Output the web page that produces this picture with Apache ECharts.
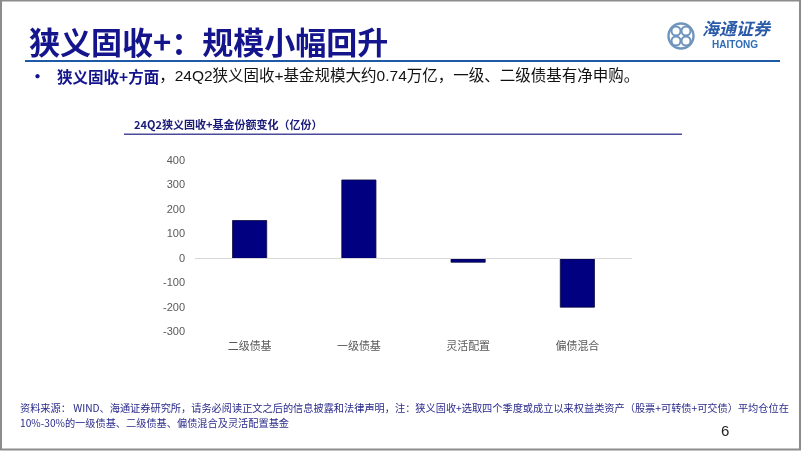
<!DOCTYPE html>
<html><head><meta charset="utf-8">
<script src="https://cdn.jsdelivr.net/npm/echarts@6/dist/echarts.min.js"></script>
<style>html,body{margin:0;padding:0;background:#fff}#c{width:802px;height:452px}</style>
</head><body><div id="c"></div>
<script>
const categories = ['二级债基', '一级债基', '灵活配置', '偏债混合'];
const values = [158, 324, -16, -200];
const yTicks = { min: -300, max: 400, interval: 100 };

const FONT = '"Noto Sans CJK SC", "Noto Sans", sans-serif';
const chart = echarts.init(document.getElementById('c'), null, { renderer: 'canvas' });
chart.setOption({
  backgroundColor: '#fff',
  animation: false,
  title: {
    text: '24Q2狭义固收+基金份额变化（亿份）',
    left: 129, top: 114,
    textStyle: { fontFamily: FONT, fontSize: 11, fontWeight: 'bold', color: '#1a1a78' }
  },
  grid: { left: 195, right: 170, top: 161, bottom: 120, containLabel: false },
  xAxis: {
    type: 'category', data: categories,
    axisLine: { show: false, onZero: false }, axisTick: { show: false },
    axisLabel: { margin: 8, fontFamily: FONT, fontSize: 11, color: '#595959' }
  },
  yAxis: {
    type: 'value', min: yTicks.min, max: yTicks.max, interval: yTicks.interval,
    axisLine: { show: false }, axisTick: { show: false }, splitLine: { show: false },
    axisLabel: { margin: 10, fontFamily: 'Arial, "Liberation Sans", sans-serif', fontSize: 11, color: '#595959' }
  },
  series: [{
    type: 'bar', data: values, barWidth: '32%',
    itemStyle: { color: '#000080', borderColor: '#0a0a3c', borderWidth: 0.8 },
    markLine: {
      silent: true, symbol: ['none', 'none'], label: { show: false },
      lineStyle: { color: '#d9d9d9', width: 1.2, type: 'solid' },
      data: [{ yAxis: 0 }]
    },
    z: 3
  }],
  graphic: [
    { type: 'rect', shape: { x: 1, y: 0.5, width: 799, height: 449 }, style: { fill: 'none', stroke: '#8c8c8c', lineWidth: 2 }, silent: true },
    { type: 'text', left: 29, top: 27, style: { text: '狭义固收+：规模小幅回升', font: 'bold 31px ' + FONT, fill: '#14148c' } },
    { type: 'rect', shape: { x: 25, y: 60, width: 755, height: 2 }, style: { fill: '#1f5aa6' } },
    { type: 'text', left: 29, top: 68, style: { text: '•', font: 'bold 17px ' + FONT, fill: '#14148c' } },
    { type: 'text', left: 57, top: 69, style: {
        rich: {
          a: { fontFamily: FONT, fontSize: 15.5, fontWeight: 'bold', fill: '#14148c' },
          b: { fontFamily: 'Arial, "Liberation Sans", ' + FONT, fontSize: 15.5, fill: '#111' }
        },
        text: '{a|狭义固收+方面}{b|，24Q2狭义固收+基金规模大约0.74万亿，一级、二级债基有净申购。}'
    } },
    { type: 'rect', shape: { x: 124, y: 133.5, width: 558, height: 1.6 }, style: { fill: '#4a4a9a' } },
    { type: 'circle', shape: { cx: 681, cy: 36, r: 12.5 }, style: { fill: 'none', stroke: '#6f95bd', lineWidth: 2.4 } },
    { type: 'circle', shape: { cx: 676, cy: 31, r: 4.5 }, style: { fill: 'none', stroke: '#6f95bd', lineWidth: 2 } },
    { type: 'circle', shape: { cx: 686, cy: 31, r: 4.5 }, style: { fill: 'none', stroke: '#6f95bd', lineWidth: 2 } },
    { type: 'circle', shape: { cx: 676, cy: 41, r: 4.5 }, style: { fill: 'none', stroke: '#6f95bd', lineWidth: 2 } },
    { type: 'circle', shape: { cx: 686, cy: 41, r: 4.5 }, style: { fill: 'none', stroke: '#6f95bd', lineWidth: 2 } },
    { type: 'text', left: 702, top: 20, style: { text: '海通证券', font: 'italic bold 17px ' + FONT, fill: '#2a5aa8' } },
    { type: 'text', left: 712, top: 40, style: { text: 'HAITONG', font: 'bold 10px Arial, "Liberation Sans", sans-serif', fill: '#2f6db5' } },
    { type: 'text', left: 20, top: 403, style: { text: '资料来源： WIND、海通证券研究所，请务必阅读正文之后的信息披露和法律声明，注：狭义固收+选取四个季度或成立以来权益类资产（股票+可转债+可交债）平均仓位在', font: '10.2px ' + FONT, fill: '#2b2b8c' } },
    { type: 'text', left: 20, top: 418, style: { text: '10%-30%的一级债基、二级债基、偏债混合及灵活配置基金', font: '10.2px ' + FONT, fill: '#2b2b8c' } },
    { type: 'text', left: 721, top: 424, style: { text: '6', font: '15px Arial, "Liberation Sans", sans-serif', fill: '#222' } }
  ]
});
</script></body></html>
